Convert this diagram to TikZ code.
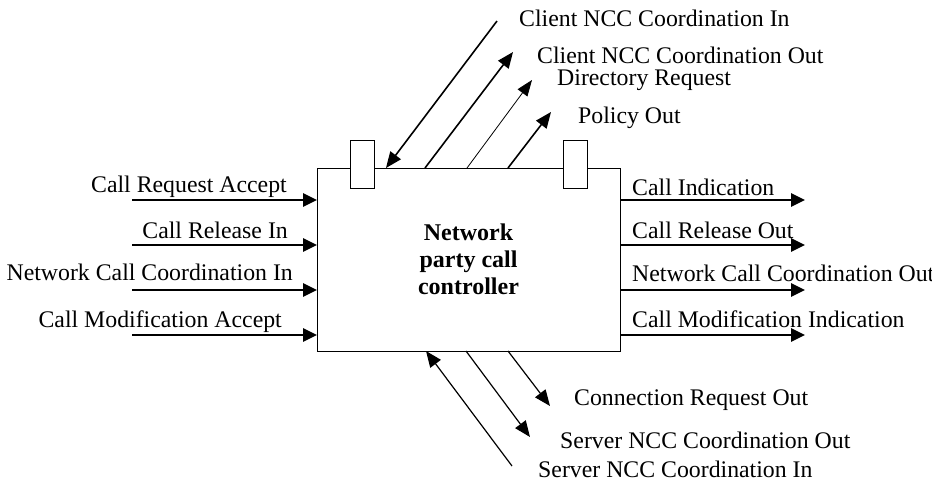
\documentclass[tikz,border=0pt]{standalone}
\usepackage{fontspec}
\setmainfont{Liberation Serif}
\usetikzlibrary{arrows.meta}
\begin{document}
\begin{tikzpicture}[x=1pt,y=-1pt,
  lbl/.style={inner sep=0pt,font=\fontsize{23.8pt}{26.5pt}\selectfont},
  thickarrow/.style={line width=2.7pt,-{Triangle[length=14pt,width=13pt]}},
  midarrow/.style={line width=1.6pt,-{Triangle[length=16pt,width=13pt]}},
  thinarrow/.style={line width=0.8pt,-{Triangle[length=16pt,width=12pt]}},
  mainbox/.style={draw,line width=1pt,fill=white,minimum width=303pt,minimum height=183pt,inner sep=0pt,align=center,
    font=\fontsize{24pt}{27pt}\selectfont\bfseries},
  port/.style={draw,line width=1pt,fill=white,minimum width=24pt,minimum height=48pt,inner sep=0pt}]
\useasboundingbox (0,0) rectangle (932,483);
% main box
\node[mainbox] (box) at (468.5,259.5) {Network\\party call\\controller};
\node[port] (p1) at (362,164) {};
\node[port] (p2) at (575,164) {};
% left inputs
\foreach \i/\y in {1/200,2/245,3/290,4/335}{
  \coordinate (l\i) at (132,\y);
  \coordinate (lb\i) at (317,\y);
  \draw[thickarrow] (l\i) -- (lb\i);
}
\node[lbl,anchor=base east] (tl1) at (287,192) {Call Request Accept};
\node[lbl,anchor=base east] (tl2) at (288,238) {Call Release In};
\node[lbl,anchor=base east] (tl3) at (293,280) {Network Call Coordination In};
\node[lbl,anchor=base east] (tl4) at (282,327) {Call Modification Accept};
% right outputs
\foreach \i/\y in {1/200,2/245,3/290,4/335}{
  \coordinate (rb\i) at (620,\y);
  \coordinate (r\i) at (805,\y);
  \draw[thickarrow] (rb\i) -- (r\i);
}
\node[lbl,anchor=base west] (tr1) at (632,195) {Call Indication};
\node[lbl,anchor=base west] (tr2) at (632,238) {Call Release Out};
\node[lbl,anchor=base west] (tr3) at (632,281) {Network Call Coordination Out};
\node[lbl,anchor=base west] (tr4) at (632,327) {Call Modification Indication};
% top connectors
\coordinate (t1a) at (497,21);  \coordinate (t1b) at (386,168);
\coordinate (t2a) at (425,168); \coordinate (t2b) at (513,52);
\coordinate (t3a) at (467,168); \coordinate (t3b) at (532,80);
\coordinate (t4a) at (508,168); \coordinate (t4b) at (551,112);
\draw[midarrow] (t1a) -- (t1b);
\draw[midarrow] (t2a) -- (t2b);
\draw[thinarrow] (t3a) -- (t3b);
\draw[midarrow] (t4a) -- (t4b);
\node[lbl,anchor=base west] (tt1) at (519,26) {Client NCC Coordination In};
\node[lbl,anchor=base west] (tt2) at (537,63) {Client NCC Coordination Out};
\node[lbl,anchor=base west] (tt3) at (557,85) {Directory Request};
\node[lbl,anchor=base west] (tt4) at (578,123) {Policy Out};
% bottom connectors
\coordinate (b1a) at (512,466); \coordinate (b1b) at (426,351);
\coordinate (b2a) at (466,351); \coordinate (b2b) at (530,437);
\coordinate (b3a) at (508,351); \coordinate (b3b) at (550,406);
\draw[midarrow,line width=1.2pt] (b1a) -- (b1b);
\draw[midarrow,line width=1.2pt] (b2a) -- (b2b);
\draw[midarrow,line width=1.2pt] (b3a) -- (b3b);
\node[lbl,anchor=base west] (tb1) at (574,405) {Connection Request Out};
\node[lbl,anchor=base west] (tb2) at (560,448) {Server NCC Coordination Out};
\node[lbl,anchor=base west] (tb3) at (538,477) {Server NCC Coordination In};
\end{tikzpicture}
\end{document}
